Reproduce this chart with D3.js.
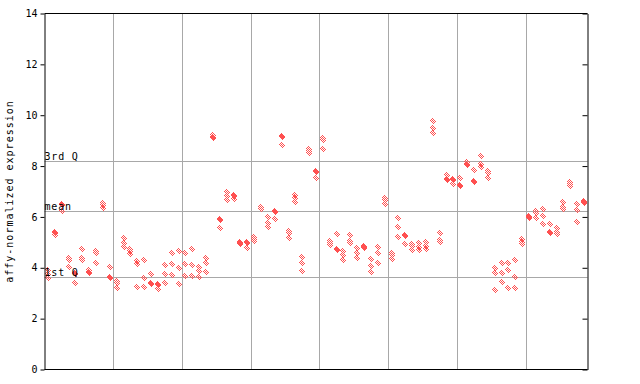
<!DOCTYPE html>
<html>
<head>
<meta charset="utf-8">
<script src="https://cdn.jsdelivr.net/npm/d3@7"></script>
<style>
  body { margin: 0; background: #fff; }
  text { font-family: "DejaVu Sans Mono", monospace; }
</style>
</head>
<body>
<svg id="chart" width="640" height="384"></svg>
<script>
// replicate values per sample, one array per condition group (10 samples each, last has 9)
const group1 = [
  [3.9, 3.75, 3.6], [5.4, 5.35, 5.3], [6.5, 6.45, 6.25], [4.4, 4.3, 4.05], [3.8, 3.75, 3.42],
  [4.75, 4.4, 4.3], [3.9, 3.85, 3.8], [4.65, 4.58, 4.17], [6.55, 6.45, 6.35], [4.05, 3.65, 3.6]
];
const group2 = [
  [3.5, 3.4, 3.22], [5.18, 4.97, 4.8], [4.72, 4.65, 4.53], [4.28, 4.15, 3.26], [4.29, 3.58, 3.26],
  [3.77, 3.42, 3.38], [3.38, 3.32, 3.18], [4.1, 3.77, 3.42], [4.6, 4.14, 3.71], [4.65, 3.98, 3.35]
];
const group3 = [
  [4.57, 4.14, 3.67], [4.73, 4.1, 3.67], [4.03, 3.86, 3.62], [4.38, 4.17, 3.85], [9.22, 9.15, 9.1],
  [5.93, 5.88, 5.56], [6.97, 6.84, 6.66], [6.86, 6.82, 6.69], [5.03, 4.97, 4.95], [5.0, 4.96, 4.76]
];
const group4 = [
  [5.2, 5.12, 5.06], [6.38, 6.33, 6.3], [5.98, 5.75, 5.59], [6.22, 6.18, 5.91], [9.2, 9.15, 8.82],
  [5.46, 5.35, 5.19], [6.86, 6.73, 6.57], [4.44, 4.17, 3.89], [8.68, 8.6, 8.5], [7.8, 7.76, 7.55]
];
const group5 = [
  [9.1, 9.04, 8.66], [5.04, 4.99, 4.89], [5.31, 4.74, 4.7], [4.67, 4.5, 4.29], [5.27, 5.04, 4.99],
  [4.76, 4.59, 4.4], [4.84, 4.8, 4.78], [4.36, 4.06, 3.84], [4.82, 4.6, 4.17], [6.75, 6.68, 6.51]
];
const group6 = [
  [4.58, 4.52, 4.33], [5.94, 5.59, 5.23], [5.3, 5.26, 4.92], [4.92, 4.86, 4.69], [4.96, 4.82, 4.69],
  [5.0, 4.86, 4.74], [9.78, 9.5, 9.29], [5.35, 5.11, 5.02], [7.64, 7.5, 7.46], [7.5, 7.46, 7.3]
];
const group7 = [
  [7.52, 7.24, 7.2], [8.15, 8.08, 8.05], [7.84, 7.43, 7.39], [8.39, 8.07, 7.98], [7.81, 7.72, 7.52],
  [4.01, 3.81, 3.14], [4.17, 3.81, 3.46], [4.17, 3.93, 3.22], [4.29, 3.62, 3.22], [5.15, 5.02, 4.93]
];
const group8 = [
  [6.05, 6.0, 5.94], [6.23, 6.14, 5.94], [6.31, 6.03, 5.71], [5.71, 5.41, 5.37], [5.55, 5.39, 5.32],
  [6.59, 6.4, 6.31], [7.39, 7.3, 7.22], [6.49, 6.27, 5.82], [6.62, 6.56, 6.58]
];

const yTicks = [0, 2, 4, 6, 8, 10, 12, 14];
const refLabels = ["3rd Q", "mean", "1st Q"];
const refValues = [8.21, 6.23, 3.63];

const groups = [group1, group2, group3, group4, group5, group6, group7, group8];
const samples = groups.flat();

const margin = { left: 44.5, right: 587.5, top: 13.5, bottom: 369.5 };
const svg = d3.select("#chart");

// checkered fill like the original bitmap markers
const pat = svg.append("defs").append("pattern")
  .attr("id", "checker")
  .attr("patternUnits", "userSpaceOnUse")
  .attr("width", 2).attr("height", 2);
pat.append("rect").attr("x", 0).attr("y", 0).attr("width", 1).attr("height", 1).attr("fill", "#ff5050");
pat.append("rect").attr("x", 1).attr("y", 1).attr("width", 1).attr("height", 1).attr("fill", "#ff5050");

const x = d3.scaleBand()
  .domain(d3.range(samples.length))
  .range([margin.left, margin.right]);

const y = d3.scaleLinear()
  .domain([0, 14])
  .range([margin.bottom, margin.top]);

// group separators
let start = 0;
const separators = [];
groups.slice(0, -1).forEach(g => { start += g.length; separators.push(start); });

svg.append("g")
  .selectAll("line")
  .data(separators)
  .join("line")
  .attr("x1", d => Math.round(x(d)) + 0.5)
  .attr("x2", d => Math.round(x(d)) + 0.5)
  .attr("y1", margin.top)
  .attr("y2", margin.bottom)
  .attr("stroke", "#a8a8a8");

// quartile / mean lines
svg.append("g")
  .selectAll("line")
  .data(refValues)
  .join("line")
  .attr("x1", margin.left)
  .attr("x2", margin.right)
  .attr("y1", d => Math.round(y(d)) + 0.5)
  .attr("y2", d => Math.round(y(d)) + 0.5)
  .attr("stroke", "#a8a8a8");

// points
const points = [];
samples.forEach((vals, i) => vals.forEach(v => points.push({ i, v })));

const diamond = "M0,-3.5L3,0L0,3.5L-3,0Z";
svg.append("g")
  .selectAll("path")
  .data(points)
  .join("path")
  .attr("d", diamond)
  .attr("transform", d => `translate(${Math.round(x(d.i) + x.bandwidth() / 2)},${Math.round(y(d.v))})`)
  .attr("fill", "url(#checker)")
  .attr("shape-rendering", "crispEdges");

// reference labels
svg.append("g")
  .selectAll("text")
  .data(refValues)
  .join("text")
  .attr("x", margin.left)
  .attr("y", d => Math.round(y(d)) - 1)
  .attr("font-size", 10)
  .attr("letter-spacing", "0.8px")
  .attr("fill", "#000")
  .text((d, k) => refLabels[k]);

// frame
svg.append("line")
  .attr("x1", margin.left).attr("x2", margin.right)
  .attr("y1", margin.top).attr("y2", margin.top)
  .attr("stroke", "#000");
svg.append("line")
  .attr("x1", margin.left).attr("x2", margin.right)
  .attr("y1", margin.bottom).attr("y2", margin.bottom)
  .attr("stroke", "#000");

const leftAxis = svg.append("g")
  .attr("transform", `translate(${margin.left},0)`)
  .call(d3.axisLeft(y).tickValues(yTicks).tickSize(4).tickSizeOuter(0).tickPadding(3));
leftAxis.selectAll("text").attr("font-size", 10).attr("font-family", "DejaVu Sans Mono").attr("fill", "#000");

svg.append("g")
  .attr("transform", `translate(${margin.right},0)`)
  .call(d3.axisLeft(y).tickValues(yTicks).tickSize(5).tickSizeOuter(0).tickFormat(""));

svg.selectAll(".domain").attr("stroke", "#000");
svg.selectAll(".tick line").attr("stroke", "#000");

// y title
svg.append("text")
  .attr("transform", `translate(13,${(margin.top + margin.bottom) / 2}) rotate(-90)`)
  .attr("text-anchor", "middle")
  .attr("font-size", 10)
  .attr("letter-spacing", "1px")
  .text("affy-normalized expression");
</script>
</body>
</html>
